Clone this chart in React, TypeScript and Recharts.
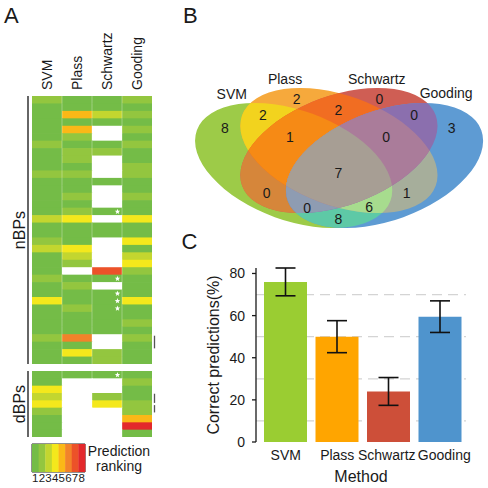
import React from 'react';
import {
  BarChart, Bar, XAxis, YAxis, Cell, CartesianGrid, ErrorBar,
  ScatterChart, Scatter, ReferenceArea,
} from 'recharts';

const FONT = '"Liberation Sans", Arial, Helvetica, sans-serif';
const INK = '#1a1a1a';

// ---------- Panel A : prediction ranking heat map ----------
const methods = ['SVM', 'Plass', 'Schwartz', 'Gooding'];
// rank 1..8, 0 = no prediction
const nbpSVM = [2,1,1,1,1,1,2,1,1,1, 2,1,1,1,1,1,3,1,1,2, 3,1,1,1,2,1,1,4,1,1, 1,1,2,1,1,1];
const nbpPlass = [1,1,5,1,5,2,1,2,2,1, 2,1,1,2,1,2,4,1,1,1, 4,3,2,0,1,2,1,1,2,1, 1,1,6,1,4,1];
const nbpSchwartz = [1,1,3,1,0,0,1,2,0,0, 0,1,0,0,0,1,0,1,1,0, 0,0,0,7,1,0,1,1,1,1, 1,1,0,0,2,2];
const nbpGooding = [2,1,2,1,2,1,2,1,1,2, 2,1,1,2,1,1,4,1,1,4, 1,3,4,2,1,1,1,4,1,1, 2,1,2,1,1,1];
const dbpSVM = [1,1,4,3,4,2,1,1,1];
const dbpPlass = [1,0,0,0,0,0,0,0,0];
const dbpSchwartz = [1,0,0,2,4,0,0,0,0];
const dbpGooding = [1,2,1,1,2,2,5,8,1];
const nbpStarRows = [15, 24, 26, 27, 28];
const dbpStarRows = [0];
// [start row, row span] of the marks right of the Gooding column
const nbpMarks = [[32.2, 1.7]];
const dbpMarks = [[3.1, 1.25], [4.65, 1.0]];
const rankLabels = ['1','2','3','4','5','6','7','8'];
const rankColors = ['#ffffff', '#74bc47', '#93c63f', '#c3d62f', '#f4e81c', '#fbb817', '#f2832a', '#ec5229', '#e3282b'];

// ---------- Panel B : Venn diagram ----------
const vennSets = ['SVM', 'Plass', 'Schwartz', 'Gooding'];
const vennRegionKeys = ['A','B','C','D','AB','AC','AD','BC','BD','CD','ABC','ABD','ACD','BCD','ABCD'];
const vennCounts = [8, 2, 0, 3, 2, 0, 8, 2, 1, 0, 1, 6, 0, 0, 7];
const vennRegionColors = ['#9dcb48','#f6a93c','#cf5e54','#5e9bd3','#f2d31e','#d6863a','#5ec9a6','#f16d22','#a6ae9b','#8b6fae','#f68a15','#a7dc8e','#8e9cb2','#aa7c9a','#a79e94'];
// layout (percent of the Venn panel)
const vennLabelX = [14.6, 37.9, 64.7, 88.2, 26.9, 28.1, 51.4, 51.4, 73.6, 76.0, 35.7, 61.4, 41.3, 66.9, 51.4];
const vennLabelY = [62.1, 78.2, 78.2, 62.1, 69.4, 26.3, 11.5, 72.2, 26.3, 69.4, 57.4, 18.2, 17.6, 57.4, 37.1];
const vennCenterX = [36.9, 51.6, 51.6, 66.4];
const vennCenterY = [41.4, 49.7, 49.7, 41.4];
const vennRotation = [20, 20, -20, -20];
const vennSetLabelX = [16.8, 34.1, 63.9, 86.4];
const vennSetLabelY = [81.1, 89.3, 89.3, 81.5];

// ---------- Panel C : accuracy ----------
const accuracy = [76, 50, 24, 59.5];
const accuracyErr = [6.6, 7.6, 6.6, 7.5];
const barColors = ['#9acd32', '#ffa500', '#cd4f39', '#4f94cd'];
const yTicks = [0, 20, 40, 60, 80];
const gridValues = [10, 20, 30, 40, 50, 60, 70];
const methodTickNudge = [0, 0, -2, 4];

const starPoints = (cx: number, cy: number, R: number, r: number) => {
  const pts: string[] = [];
  for (let k = 0; k < 10; k++) {
    const a = -Math.PI / 2 + (k * Math.PI) / 5;
    const rad = k % 2 === 0 ? R : r;
    pts.push(`${cx + rad * Math.cos(a)},${cy + rad * Math.sin(a)}`);
  }
  return pts.join(' ');
};

const ColTick = (p: any) => (
  <text x={p.x} y={p.y} transform={`rotate(-90 ${p.x} ${p.y})`} dy="0.38em" textAnchor="start" fontSize={14} fill={INK}>
    {p.payload.value}
  </text>
);

const MethodTick = (p: any) => (
  <text x={p.x + (methodTickNudge[p.index] || 0)} y={p.y} dy="0.71em" textAnchor="middle" fontSize={14} fill={INK}>
    {p.payload.value}
  </text>
);

const sideLabel = (txt: string) => (p: any) => {
  const vb = p.viewBox || { x: 0, y: 0, width: 0, height: 0 };
  const cx = vb.x + 19;
  const cy = vb.y + vb.height / 2;
  return (
    <text x={cx} y={cy} transform={`rotate(-90 ${cx} ${cy})`} textAnchor="middle" dy="0.36em" fontSize={16} fill={INK}>
      {txt}
    </text>
  );
};

function HeatBlock(props: {
  ranks: number[][]; stars: number[]; marks: number[][]; height: number;
  marginTop: number; showHeader: boolean; label: string;
}) {
  const { ranks, stars, marks, height, marginTop, showHeader, label } = props;
  const nRows = ranks[0].length;
  const rows = Array.from({ length: nRows }, (_, r) => r);
  const table = methods.map((m) => {
    const o: any = { name: m };
    rows.forEach((r) => { o['c' + r] = 1; });
    return o;
  });
  const cellShape = (r: number) => (p: any) => {
    const mi = p.index;
    const rank = ranks[mi][r];
    const y0 = Math.min(p.y, p.y + p.height);
    const h = Math.abs(p.height);
    const overlap = r < nRows - 1 ? 0.7 : 0;
    const parts: any[] = [
      <rect key="r" x={p.x} y={y0} width={p.width + (mi < 3 ? 0.5 : 0)} height={h + overlap} fill={rankColors[rank]} />,
    ];
    if (mi > 0) {
      parts.push(<line key="l" x1={p.x} x2={p.x} y1={y0} y2={y0 + h + overlap} stroke="#ffffff" strokeOpacity={0.4} strokeWidth={0.8} />);
    }
    if (mi === 2 && stars.includes(r)) {
      parts.push(<polygon key="s" points={starPoints(p.x + p.width - 4.5, y0 + h / 2 + 0.3, 2.9, 1.2)} fill="#ffffff" />);
    }
    if (mi === 3) {
      marks.filter((mk) => Math.floor(mk[0]) === r).forEach((mk, k) => {
        const ys = y0 + (mk[0] - r) * h;
        parts.push(<line key={'m' + k} x1={p.x + p.width + 2.5} x2={p.x + p.width + 2.5} y1={ys} y2={ys + mk[1] * h} stroke="#555" strokeWidth={1.3} />);
      });
    }
    return <g>{parts}</g>;
  };
  return (
    <BarChart width={170} height={height} data={table} barCategoryGap={0} barGap={0}
      margin={{ top: marginTop, right: 18, bottom: 6, left: 0 }}>
      {showHeader ? (
        <XAxis dataKey="name" orientation="top" height={70} axisLine={false} tickLine={false}
          tickSize={0} tickMargin={6} interval={0} tick={ColTick} padding={{ left: 4, right: 0 }} />
      ) : (
        <XAxis dataKey="name" hide padding={{ left: 4, right: 0 }} />
      )}
      <YAxis type="number" domain={[0, nRows]} reversed width={28} tick={false} tickLine={false}
        axisLine={{ stroke: '#333', strokeWidth: 1.5 }} label={{ value: label, content: sideLabel(label) }} />
      {rows.map((r) => (
        <Bar key={r} dataKey={'c' + r} stackId="s" isAnimationActive={false} shape={cellShape(r)} />
      ))}
    </BarChart>
  );
}

const legendData = rankLabels.map((r) => ({ rank: r, v: 1 }));

// Venn data tables
const ellipseData = vennSets.map((s, i) => ({ x: vennCenterX[i], y: vennCenterY[i], id: i, rot: vennRotation[i] }));
const regionData = vennRegionKeys.map((k, i) => ({
  x: vennLabelX[i], y: vennLabelY[i], count: vennCounts[i], color: vennRegionColors[i],
  members: k.split('').map((c) => 'ABCD'.indexOf(c)),
}));
const setLabelData = vennSets.map((s, i) => ({ x: vennSetLabelX[i], y: vennSetLabelY[i], name: s }));

const EllipseClip = (p: any) => (
  <clipPath id={`venn-clip-${p.payload.id}`}>
    <ellipse cx={p.cx} cy={p.cy} rx={103} ry={55} transform={`rotate(${p.payload.rot} ${p.cx} ${p.cy})`} />
  </clipPath>
);
const RegionFill = (p: any) => {
  let el: any = <rect x={-20} y={-20} width={360} height={230} fill={p.payload.color} />;
  p.payload.members.forEach((m: number) => {
    el = <g clipPath={`url(#venn-clip-${m})`}>{el}</g>;
  });
  return el;
};
const CountText = (p: any) => (
  <text x={p.cx} y={p.cy} textAnchor="middle" dominantBaseline="central" fontSize={14} fill={INK}>{p.payload.count}</text>
);
const SetText = (p: any) => (
  <text x={p.cx} y={p.cy} textAnchor="middle" dominantBaseline="central" fontSize={14} fill={INK}>{p.payload.name}</text>
);

const accData = methods.map((m, i) => ({ name: m, value: accuracy[i], err: accuracyErr[i] }));

export default function App() {
  return (
    <div style={{ position: 'absolute', left: 0, top: 0, width: 488, height: 488, background: '#fff', fontFamily: FONT, overflow: 'hidden' }}>
      {/* Panel A */}
      <div style={{ position: 'absolute', left: 0, top: 0 }}>
        <HeatBlock ranks={[nbpSVM, nbpPlass, nbpSchwartz, nbpGooding]} stars={nbpStarRows} marks={nbpMarks}
          height={370} marginTop={26} showHeader label="nBPs" />
      </div>
      <div style={{ position: 'absolute', left: 0, top: 365 }}>
        <HeatBlock ranks={[dbpSVM, dbpPlass, dbpSchwartz, dbpGooding]} stars={dbpStarRows} marks={dbpMarks}
          height={78} marginTop={6} showHeader={false} label="dBPs" />
      </div>
      <div style={{ position: 'absolute', left: 0, top: 440 }}>
        <BarChart width={100} height={48} data={legendData} barCategoryGap={0}
          margin={{ top: 4, right: 15, bottom: 2, left: 32 }}>
          <XAxis dataKey="rank" axisLine={false} tickLine={false} tickSize={0} tickMargin={1.5} interval={0}
            height={14} tick={{ fontSize: 11.5, fill: INK }} />
          <YAxis hide type="number" domain={[0, 1]} />
          <Bar dataKey="v" isAnimationActive={false}>
            {legendData.map((d, i) => <Cell key={i} fill={rankColors[i + 1]} />)}
          </Bar>
          <ReferenceArea x1="1" x2="8" y1={0} y2={1} fill="none" fillOpacity={0} stroke="#222" strokeWidth={1} ifOverflow="visible" />
        </BarChart>
      </div>

      {/* Panel B */}
      <div style={{ position: 'absolute', left: 180, top: 60 }}>
        <ScatterChart width={308} height={180} margin={{ top: 0, right: 0, bottom: 0, left: 0 }}>
          <XAxis type="number" dataKey="x" domain={[0, 100]} hide />
          <YAxis type="number" dataKey="y" domain={[0, 100]} hide />
          <Scatter data={ellipseData} shape={EllipseClip} isAnimationActive={false} />
          <Scatter data={regionData} shape={RegionFill} isAnimationActive={false} />
          <Scatter data={regionData} shape={CountText} isAnimationActive={false} />
          <Scatter data={setLabelData} shape={SetText} isAnimationActive={false} />
        </ScatterChart>
      </div>

      {/* Panel C */}
      <div style={{ position: 'absolute', left: 170, top: 230 }}>
        <BarChart width={318} height={258} data={accData} margin={{ top: 38, right: 22, bottom: 6, left: 0 }}>
          <CartesianGrid vertical={false} horizontalValues={gridValues} stroke="#d4d4d4" strokeWidth={1.3} strokeDasharray="10 6" />
          <XAxis dataKey="name" axisLine={false} tickLine={false} interval={0} height={40}
            padding={{ left: 4, right: 0 }} tick={MethodTick}
            label={{ value: 'Method', position: 'insideBottom', offset: 0, fontSize: 16, fill: INK }} />
          <YAxis type="number" domain={[0, 80]} ticks={yTicks} width={86} tickSize={4} tickMargin={7}
            axisLine={{ stroke: INK, strokeWidth: 1.3 }} tickLine={{ stroke: INK, strokeWidth: 1.3 }}
            tick={{ fontSize: 14, fill: INK }}
            label={{ value: 'Correct predictions(%)', angle: -90, position: 'center', fontSize: 16, fill: INK }} />
          <Bar dataKey="value" barSize={43} isAnimationActive={false}>
            {accData.map((d, i) => <Cell key={i} fill={barColors[i]} />)}
            <ErrorBar dataKey="err" width={10} stroke="#111" strokeWidth={1.6} />
          </Bar>
        </BarChart>
      </div>

      {/* panel letters and legend title */}
      <svg width={488} height={488} style={{ position: 'absolute', left: 0, top: 0, pointerEvents: 'none' }}>
        <text x={4} y={22.7} fontSize={22} fill={INK}>A</text>
        <text x={183} y={22.7} fontSize={22} fill={INK}>B</text>
        <text x={181.5} y={249} fontSize={22} fill={INK}>C</text>
        <text x={119} y={456} fontSize={14} fill={INK} textAnchor="middle">Prediction</text>
        <text x={119} y={470.5} fontSize={14} fill={INK} textAnchor="middle">ranking</text>
      </svg>
    </div>
  );
}
